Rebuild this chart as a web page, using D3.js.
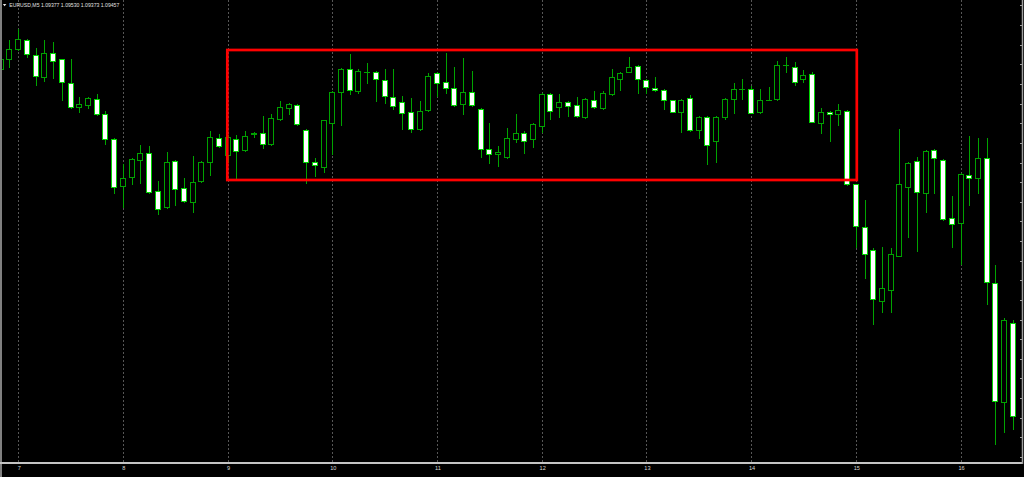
<!DOCTYPE html>
<html><head><meta charset="utf-8">
<script src="https://cdn.jsdelivr.net/npm/d3@7"></script>
<style>html,body{margin:0;padding:0;background:#000;overflow:hidden}</style>
</head><body><svg id="chart" width="1024" height="477"></svg>
<script>
// ---------- data ----------
const symbolTitle = "EURUSD,M5 1.09377 1.09530 1.09373 1.09457";
const hourLabels = ["7","8","9","10","11","12","13","14","15","16"];
const hourBars   = [2, 14, 26, 38, 50, 62, 74, 86, 98, 110];

const opens = [
1.09931,1.09941,1.09951,1.09960,1.09945,1.09923,1.09947,1.09941,1.09917,1.09893,
1.09895,1.09901,1.09886,1.09861,1.09814,1.09823,1.09840,1.09847,1.09809,1.09793,
1.09839,1.09812,1.09798,1.09819,1.09838,1.09862,1.09845,1.09861,1.09850,1.09866,
1.09867,1.09856,1.09881,1.09892,1.09895,1.09870,1.09838,1.09833,1.09877,1.09908,
1.09931,1.09909,1.09928,1.09928,1.09920,1.09903,1.09898,1.09888,1.09871,1.09890,
1.09927,1.09918,1.09912,1.09896,1.09908,1.09891,1.09851,1.09846,1.09843,1.09861,
1.09867,1.09861,1.09874,1.09906,1.09893,1.09898,1.09895,1.09883,1.09900,1.09892,
1.09906,1.09921,1.09928,1.09934,1.09920,1.09912,1.09910,1.09900,1.09888,1.09902,
1.09870,1.09883,1.09859,1.09883,1.09901,1.09911,1.09911,1.09888,1.09900,1.09901,
1.09935,1.09933,1.09921,1.09926,1.09877,1.09888,1.09886,1.09889,1.09816,1.09773,
1.09750,1.09699,1.09710,1.09744,1.09813,1.09839,1.09807,1.09850,1.09840,1.09782,
1.09777,1.09825,1.09822,1.09842,1.09717,1.09598,1.09677];
const highs = [
1.09957,1.09960,1.09971,1.09961,1.09952,1.09960,1.09958,1.09941,1.09941,1.09903,
1.09903,1.09906,1.09889,1.09862,1.09836,1.09842,1.09855,1.09854,1.09819,1.09848,
1.09840,1.09822,1.09844,1.09839,1.09869,1.09866,1.09865,1.09865,1.09869,1.09868,
1.09884,1.09886,1.09899,1.09897,1.09896,1.09871,1.09842,1.09880,1.09909,1.09932,
1.09946,1.09931,1.09937,1.09929,1.09931,1.09931,1.09904,1.09902,1.09899,1.09927,
1.09928,1.09947,1.09933,1.09942,1.09929,1.09892,1.09877,1.09854,1.09872,1.09886,
1.09869,1.09877,1.09907,1.09907,1.09906,1.09899,1.09903,1.09902,1.09909,1.09909,
1.09931,1.09928,1.09943,1.09935,1.09921,1.09923,1.09911,1.09900,1.09901,1.09905,
1.09884,1.09884,1.09884,1.09902,1.09917,1.09921,1.09914,1.09911,1.09913,1.09939,
1.09943,1.09938,1.09930,1.09928,1.09892,1.09889,1.09896,1.09890,1.09816,1.09800,
1.09752,1.09753,1.09752,1.09871,1.09838,1.09843,1.09850,1.09851,1.09841,1.09804,
1.09827,1.09864,1.09862,1.09862,1.09735,1.09682,1.09680];
const lows = [
1.09930,1.09933,1.09950,1.09943,1.09915,1.09919,1.09922,1.09900,1.09892,1.09888,
1.09892,1.09885,1.09856,1.09807,1.09793,1.09816,1.09817,1.09807,1.09786,1.09792,
1.09795,1.09798,1.09788,1.09818,1.09825,1.09853,1.09838,1.09822,1.09849,1.09863,
1.09852,1.09855,1.09880,1.09886,1.09875,1.09817,1.09824,1.09828,1.09846,1.09875,
1.09906,1.09907,1.09917,1.09899,1.09897,1.09891,1.09871,1.09868,1.09870,1.09889,
1.09904,1.09907,1.09894,1.09886,1.09894,1.09843,1.09837,1.09834,1.09842,1.09858,
1.09847,1.09853,1.09868,1.09881,1.09883,1.09884,1.09883,1.09882,1.09892,1.09891,
1.09905,1.09910,1.09928,1.09907,1.09907,1.09909,1.09891,1.09888,1.09868,1.09869,
1.09862,1.09836,1.09838,1.09881,1.09887,1.09901,1.09887,1.09887,1.09900,1.09900,
1.09928,1.09915,1.09918,1.09878,1.09867,1.09859,1.09875,1.09815,1.09753,1.09722,
1.09676,1.09688,1.09688,1.09744,1.09763,1.09749,1.09788,1.09807,1.09780,1.09753,
1.09736,1.09795,1.09807,1.09696,1.09556,1.09568,1.09571];
const closes = [
1.09941,1.09951,1.09961,1.09946,1.09924,1.09947,1.09939,1.09918,1.09893,1.09896,
1.09902,1.09886,1.09861,1.09813,1.09822,1.09841,1.09847,1.09808,1.09791,1.09838,
1.09811,1.09799,1.09818,1.09838,1.09863,1.09854,1.09863,1.09849,1.09864,1.09867,
1.09856,1.09882,1.09893,1.09896,1.09876,1.09838,1.09835,1.09880,1.09908,1.09931,
1.09910,1.09929,1.09928,1.09921,1.09904,1.09894,1.09887,1.09871,1.09889,1.09924,
1.09917,1.09912,1.09895,1.09908,1.09895,1.09851,1.09846,1.09848,1.09862,1.09867,
1.09859,1.09876,1.09906,1.09889,1.09898,1.09894,1.09884,1.09901,1.09893,1.09907,
1.09923,1.09927,1.09933,1.09921,1.09913,1.09910,1.09900,1.09888,1.09900,1.09870,
1.09883,1.09855,1.09883,1.09901,1.09911,1.09911,1.09887,1.09900,1.09900,1.09935,
1.09935,1.09918,1.09925,1.09878,1.09888,1.09886,1.09890,1.09816,1.09774,1.09746,
1.09701,1.09712,1.09746,1.09816,1.09837,1.09808,1.09849,1.09842,1.09781,1.09776,
1.09826,1.09822,1.09842,1.09718,1.09599,1.09680,1.09584];

const priceTicks = [1.09995,1.09975,1.09955,1.09936,1.09916,1.09896,1.09877,1.09857,
1.09837,1.09818,1.09798,1.09779,1.09759,1.09739,1.09720,1.09700,1.09680,1.09661,
1.09641,1.09622,1.09602,1.09582,1.09563,1.09543];

// rectangle drawn on the chart (bars and prices)
const boxBars = [26, 98];
const boxPrices = [1.09950, 1.09820];

// ---------- drawing ----------
const W = 1024, H = 477;
const plotLeft = 2, plotRight = 1022, plotBottom = 462;
const svg = d3.select("#chart");
svg.append("rect").attr("width", W).attr("height", H).attr("fill", "#000");

const x = d3.scaleLinear().domain([0, opens.length - 1]).range([1.25, 1013.35]);
const y = d3.scaleLinear().domain([1.10000, 1.09523]).range([0, 477]);
const col = i => Math.floor(x(i));

const defs = svg.append("defs");
defs.append("clipPath").attr("id", "plotClip").append("rect")
  .attr("x", plotLeft).attr("y", 0).attr("width", plotRight - plotLeft).attr("height", plotBottom);

// vertical grid
svg.append("g").selectAll("line").data(hourBars).join("line")
  .attr("x1", d => col(d) + 0.5).attr("x2", d => col(d) + 0.5)
  .attr("y1", 0).attr("y2", plotBottom)
  .attr("stroke", "#565656").attr("stroke-width", 1).attr("stroke-dasharray", "2,2");

const bars = d3.range(opens.length).map(i => ({i, o: opens[i], h: highs[i], l: lows[i], c: closes[i]}));
const cg = svg.append("g").attr("clip-path", "url(#plotClip)");
const GREEN = "#00a400";

// wicks
cg.append("g").selectAll("line").data(bars).join("line")
  .attr("x1", d => col(d.i) + 0.5).attr("x2", d => col(d.i) + 0.5)
  .attr("y1", d => Math.round(y(d.h))).attr("y2", d => Math.round(y(d.l)) + 1)
  .attr("stroke", GREEN).attr("stroke-width", 1);

// bodies
const bodyTop = d => Math.round(y(Math.max(d.o, d.c)));
const bodyBot = d => Math.round(y(Math.min(d.o, d.c)));
cg.append("g").selectAll("rect").data(bars.filter(d => bodyBot(d) - bodyTop(d) >= 1)).join("rect")
  .attr("x", d => col(d.i) - 2.5).attr("width", 5)
  .attr("y", d => bodyTop(d) + 0.5).attr("height", d => bodyBot(d) - bodyTop(d))
  .attr("fill", d => d.c > d.o ? "#000" : "#fff")
  .attr("stroke", d => d.c > d.o ? "#00a000" : "#00d400").attr("stroke-width", 1);
// doji bars
cg.append("g").selectAll("line").data(bars.filter(d => bodyBot(d) - bodyTop(d) < 1)).join("line")
  .attr("x1", d => col(d.i) - 3).attr("x2", d => col(d.i) + 3)
  .attr("y1", d => bodyTop(d) + 0.5).attr("y2", d => bodyTop(d) + 0.5)
  .attr("stroke", GREEN).attr("stroke-width", 1);

// red range box
svg.append("rect")
  .attr("x", x(boxBars[0]) - 0.8).attr("y", y(boxPrices[0]))
  .attr("width", x(boxBars[1]) - x(boxBars[0]) + 1.3)
  .attr("height", y(boxPrices[1]) - y(boxPrices[0]))
  .attr("fill", "none").attr("stroke", "#ff0000").attr("stroke-width", 2.7);

// borders
svg.append("line").attr("x1", 1).attr("x2", 1).attr("y1", 0).attr("y2", H)
  .attr("stroke", "#808080").attr("stroke-width", 2);
svg.append("line").attr("x1", 0).attr("x2", plotRight + 1).attr("y1", 463).attr("y2", 463)
  .attr("stroke", "#c4c4c4").attr("stroke-width", 1.8);
svg.append("line").attr("x1", plotRight + 0.5).attr("x2", plotRight + 0.5).attr("y1", 0).attr("y2", 464)
  .attr("stroke", "#a0a0a0").attr("stroke-width", 1.5);

// right price ticks (labels fall outside the frame)
const yAxis = d3.axisLeft(y).tickValues(priceTicks).tickSize(2).tickFormat(() => "");
const ya = svg.append("g").attr("transform", `translate(${plotRight},0)`).call(yAxis);
ya.select(".domain").remove();
ya.selectAll("line").attr("stroke", "#a0a0a0");

// bottom time axis labels
const xAxis = d3.axisBottom(x).tickValues(hourBars).tickSize(0).tickPadding(2.6)
  .tickFormat((d, i) => hourLabels[i]);
const xa = svg.append("g").attr("transform", "translate(0,463)").call(xAxis);
xa.select(".domain").remove();
xa.selectAll("text").attr("fill", "#d8d8d8")
  .style("font-family", "'Liberation Sans', Arial, sans-serif").style("font-size", "5.6px");

// title
svg.append("path").attr("d", "M2.8,4 L6.4,4 L4.6,6.3 Z").attr("fill", "#e8e8e8");
svg.append("text").attr("x", 9.3).attr("y", 7.3).text(symbolTitle)
  .attr("fill", "#e0e0e0").attr("textLength", 110).attr("lengthAdjust", "spacingAndGlyphs")
  .style("font-family", "'Liberation Sans', Arial, sans-serif").style("font-size", "5.6px");
</script>
</body></html>
